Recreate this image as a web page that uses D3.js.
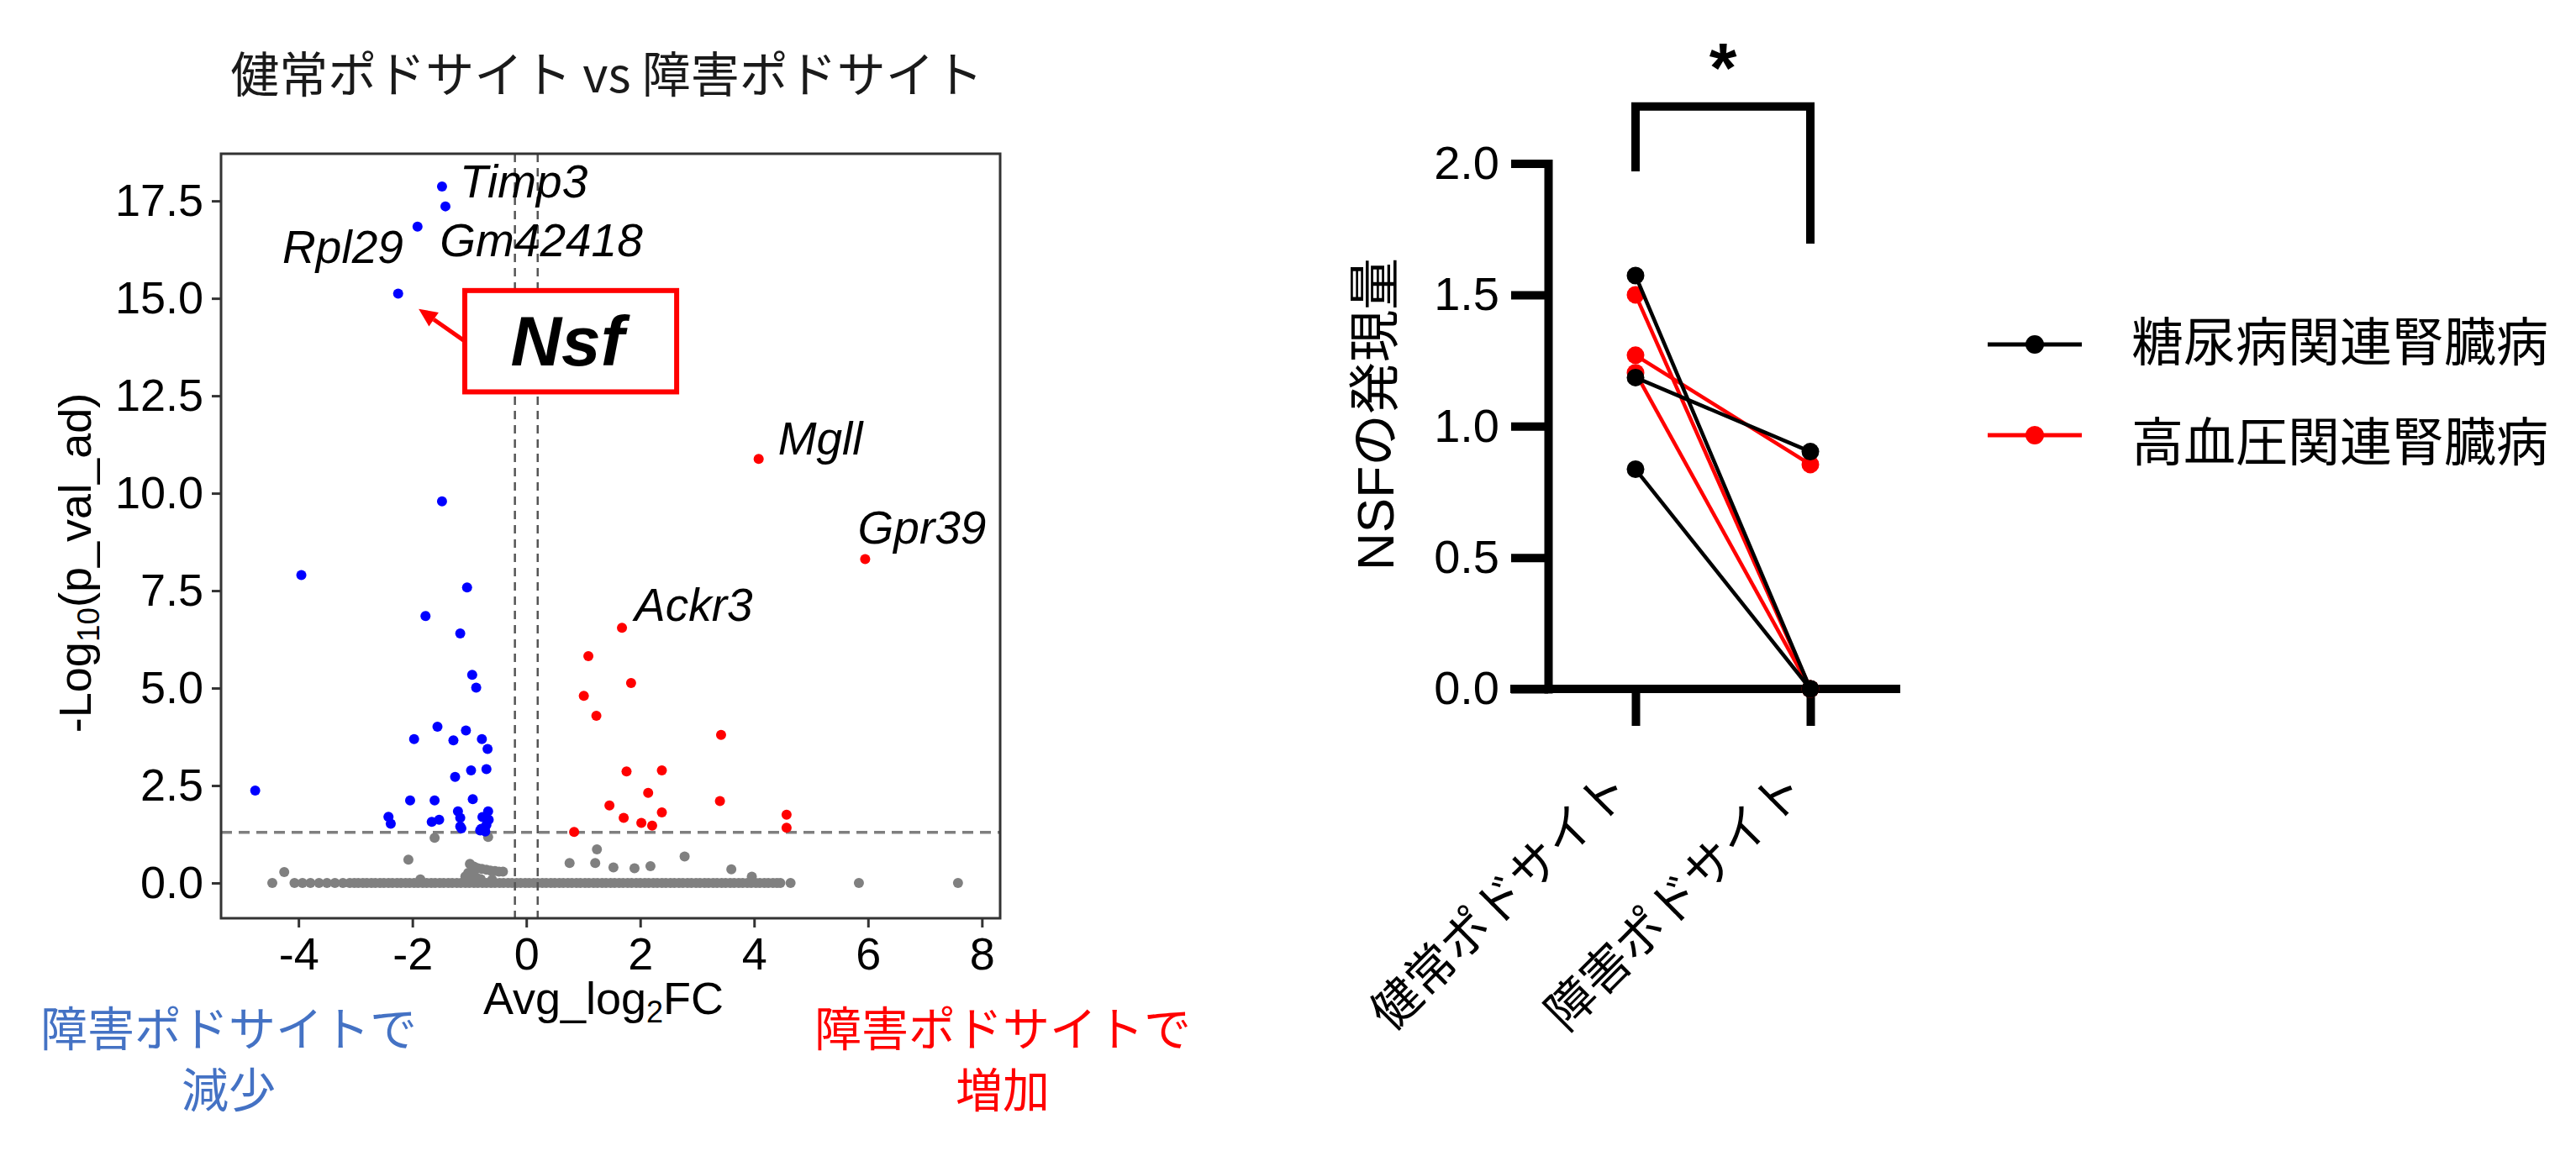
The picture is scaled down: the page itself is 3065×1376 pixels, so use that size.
<!DOCTYPE html>
<html>
<head>
<meta charset="utf-8">
<script src="https://cdn.jsdelivr.net/npm/d3@7"></script>
<style>
  body { margin: 0; background: #fff; }
  svg { display: block; }
</style>
</head>
<body>
<svg id="fig" width="3065" height="1376"></svg>
<script>
// ---------- volcano plot data: [avg_log2FC, -log10(p_val_adj)] ----------
const downGenes = [
  [-1.48, 17.87], [-1.42, 17.36], [-1.91, 16.84], [-2.25, 15.12], [-1.48, 9.79],
  [-3.95, 7.90], [-1.04, 7.58], [-1.77, 6.85], [-1.16, 6.40], [-0.95, 5.34], [-0.88, 5.01],
  [-1.56, 4.01], [-1.06, 3.91], [-1.97, 3.69], [-1.28, 3.66], [-0.78, 3.69], [-0.68, 3.44],
  [-0.97, 2.89], [-0.70, 2.92], [-1.25, 2.72], [-4.76, 2.37],
  [-2.04, 2.12], [-1.61, 2.12], [-0.94, 2.15],
  [-2.42, 1.70], [-2.38, 1.52], [-1.66, 1.57], [-1.53, 1.62], [-1.20, 1.84], [-1.16, 1.67],
  [-1.16, 1.45], [-0.77, 1.69], [-0.67, 1.84], [-0.70, 1.49], [-0.81, 1.35], [-0.72, 1.32],
  [-0.66, 1.62], [-1.14, 1.40], [-0.79, 1.39]
];
const upGenes = [
  [4.08, 10.88], [5.95, 8.31], [1.68, 6.55], [1.09, 5.82], [1.84, 5.13], [1.01, 4.80],
  [1.23, 4.29], [3.42, 3.80], [1.76, 2.86], [2.38, 2.89], [2.14, 2.31], [3.40, 2.10],
  [1.46, 1.99], [1.71, 1.67], [2.38, 1.81], [2.02, 1.54], [2.21, 1.47], [4.57, 1.75],
  [4.57, 1.42], [0.84, 1.31]
];
const nsGenes = [
  [-4.46, 0], [-4.25, 0.28], [-2.07, 0.60], [-1.61, 1.16], [-0.67, 1.18],
  [-1.86, 0.09], [-1.07, 0.17], [-0.99, 0.49], [-0.92, 0.42], [-0.85, 0.38], [-0.78, 0.36],
  [-0.70, 0.34], [-0.63, 0.32], [-0.55, 0.31], [-0.48, 0.29], [-0.41, 0.29], [-1.02, 0.26],
  [-0.95, 0.22], [-0.88, 0.14], [-0.80, 0.10], [-0.60, 0.08],
  [0.76, 0.51], [1.21, 0.51], [1.24, 0.86], [1.53, 0.40], [1.90, 0.38], [2.18, 0.43],
  [2.78, 0.68], [3.60, 0.35], [3.96, 0.16], [4.64, 0], [5.84, 0], [7.58, 0]
];
// genes with p_adj ~ 1 (the dense row on the zero line)
const nsBandX = [
  -4.07, -3.93, -3.79, -3.64, -3.50, -3.36, -3.22, -3.10, -3.02, -2.95, -2.87, -2.80,
  -2.72, -2.65, -2.57, -2.50, -2.42, -2.35, -2.27, -2.20, -2.12, -2.05, -1.97, -1.90,
  -1.82, -1.75, -1.67, -1.60, -1.52, -1.45, -1.37, -1.30, -1.22, -1.15, -1.07, -1.00,
  -0.92, -0.85, -0.77, -0.70, -0.62, -0.55, -0.47, -0.40, -0.32, -0.25, -0.17, -0.10,
  -0.02, 0.05, 0.13, 0.20, 0.28, 0.35, 0.43, 0.50, 0.58, 0.65, 0.73, 0.80, 0.88, 0.95,
  1.03, 1.10, 1.18, 1.25, 1.33, 1.40, 1.48, 1.55, 1.63, 1.70, 1.78, 1.85, 1.93, 2.00,
  2.08, 2.15, 2.23, 2.30, 2.38, 2.45, 2.53, 2.60, 2.68, 2.75, 2.83, 2.90, 2.98, 3.05,
  3.13, 3.20, 3.28, 3.35, 3.43, 3.50, 3.58, 3.65, 3.73, 3.80, 3.88, 3.95, 4.03, 4.10,
  4.18, 4.25, 4.33, 4.40, 4.46
];
// gene names written next to points (label anchor in data units)
const geneLabels = [
  { gene: "Timp3",   x: -1.17, y: 17.59, anchor: "start" },
  { gene: "Gm42418", x: -1.52, y: 16.07, anchor: "start" },
  { gene: "Rpl29",   x: -2.16, y: 15.90, anchor: "end" },
  { gene: "Mgll",    x: 4.42,  y: 11.00, anchor: "start" },
  { gene: "Gpr39",   x: 5.82,  y: 8.71,  anchor: "start" },
  { gene: "Ackr3",   x: 1.90,  y: 6.73,  anchor: "start" }
];
const xTicksV = [-4, -2, 0, 2, 4, 6, 8];
const yTicksV = [0, 2.5, 5, 7.5, 10, 12.5, 15, 17.5];
const fcCut = 0.2;    // |log2FC| threshold
const pCut = 1.3;     // -log10(0.05)

// ---------- paired NSF expression ----------
const groups = ["健常ポドサイト", "障害ポドサイト"];
const seriesNames = ["糖尿病関連腎臓病", "高血圧関連腎臓病"];
const dkdPairs = [[1.573, 0], [1.185, 0.903], [0.836, 0]];
const htnPairs = [[1.50, 0], [1.27, 0.854], [1.203, 0]];
const yTicksN = [0, 0.5, 1.0, 1.5, 2.0];
const sigBracket = { left: 1.97, top: 2.217, right: 1.695, label: "*" };

const SANS = "'Liberation Sans', Arial, sans-serif";
const JP = "'Noto Sans CJK JP', sans-serif";
const MIX = "'Liberation Sans', 'Noto Sans CJK JP', sans-serif";

const svg = d3.select("#fig");

// ======================= volcano =======================
const x = d3.scaleLinear().domain([-5.36, 8.32]).range([263, 1190]);
const y = d3.scaleLinear().domain([-0.905, 18.71]).range([1093, 183]);

const vol = svg.append("g").attr("class", "volcano");

vol.append("text")
  .attr("x", 722).attr("y", 85)
  .attr("text-anchor", "middle").attr("dominant-baseline", "central")
  .style("font-family", JP).style("font-size", "58px")
  .attr("fill", "#1a1a1a")
  .text("健常ポドサイト vs 障害ポドサイト");

// grey points first
vol.append("g").selectAll("circle")
  .data(nsBandX).join("circle")
  .attr("cx", d => x(d)).attr("cy", y(0)).attr("r", 6)
  .attr("fill", "#808080");
vol.append("g").selectAll("circle")
  .data(nsGenes).join("circle")
  .attr("cx", d => x(d[0])).attr("cy", d => y(d[1])).attr("r", 6)
  .attr("fill", "#808080");

// threshold lines
[-fcCut, fcCut].forEach(v => {
  vol.append("line")
    .attr("x1", x(v)).attr("x2", x(v))
    .attr("y1", y.range()[1]).attr("y2", y.range()[0])
    .attr("stroke", "#555").attr("stroke-width", 2.5)
    .attr("stroke-dasharray", "10,7");
});
vol.append("line")
  .attr("x1", x.range()[0]).attr("x2", x.range()[1])
  .attr("y1", y(pCut)).attr("y2", y(pCut))
  .attr("stroke", "#7f7f7f").attr("stroke-width", 3.5)
  .attr("stroke-dasharray", "13,8");

vol.append("g").selectAll("circle")
  .data(downGenes).join("circle")
  .attr("cx", d => x(d[0])).attr("cy", d => y(d[1])).attr("r", 6)
  .attr("fill", "#0000ff");
vol.append("g").selectAll("circle")
  .data(upGenes).join("circle")
  .attr("cx", d => x(d[0])).attr("cy", d => y(d[1])).attr("r", 6)
  .attr("fill", "#ff0000");

// panel border
vol.append("rect")
  .attr("x", x.range()[0]).attr("y", y.range()[1])
  .attr("width", x.range()[1] - x.range()[0])
  .attr("height", y.range()[0] - y.range()[1])
  .attr("fill", "none").attr("stroke", "#333").attr("stroke-width", 3);

// axes
const gx = vol.append("g")
  .attr("transform", "translate(0," + y.range()[0] + ")")
  .call(d3.axisBottom(x).tickValues(xTicksV).tickFormat(d => String(d))
    .tickSize(11).tickPadding(12));
const gy = vol.append("g")
  .attr("transform", "translate(" + x.range()[0] + ",0)")
  .call(d3.axisLeft(y).tickValues(yTicksV).tickFormat(d3.format(".1f"))
    .tickSize(11).tickPadding(10));
[gx, gy].forEach(g => {
  g.select(".domain").remove();
  g.selectAll(".tick line").attr("stroke", "#333").attr("stroke-width", 3);
  g.selectAll(".tick text")
    .style("font-family", SANS).style("font-size", "54px").attr("fill", "#000");
});

// axis titles
const xt = vol.append("text")
  .attr("x", 718).attr("y", 1207).attr("text-anchor", "middle")
  .style("font-family", SANS).style("font-size", "54px").attr("fill", "#000");
xt.append("tspan").text("Avg_log");
xt.append("tspan").attr("dy", 10).style("font-size", "36px").text("2");
xt.append("tspan").attr("dy", -10).text("FC");

const yt = vol.append("text")
  .attr("transform", "translate(108,670) rotate(-90)").attr("text-anchor", "middle")
  .style("font-family", SANS).style("font-size", "54px").attr("fill", "#000");
yt.append("tspan").text("-Log");
yt.append("tspan").attr("dy", 10).style("font-size", "37px").text("10");
yt.append("tspan").attr("dy", -10).text("(p_val_ad)");

// gene labels
vol.append("g").selectAll("text")
  .data(geneLabels).join("text")
  .attr("x", d => x(d.x)).attr("y", d => y(d.y))
  .attr("text-anchor", d => d.anchor)
  .style("font-family", SANS).style("font-size", "55px").style("font-style", "italic")
  .attr("fill", "#000")
  .text(d => d.gene);

// Nsf call-out box with arrow to its point
const box = { x0: -1.08, y0: 15.2, x1: 2.64, y1: 12.6 };
const tip = [-1.89, 14.73];
vol.append("rect")
  .attr("x", x(box.x0)).attr("y", y(box.y0))
  .attr("width", x(box.x1) - x(box.x0)).attr("height", y(box.y1) - y(box.y0))
  .attr("fill", "#fff").attr("stroke", "#ff0000").attr("stroke-width", 6);
vol.append("text")
  .attr("x", (x(box.x0) + x(box.x1)) / 2 - 4)
  .attr("y", (y(box.y0) + y(box.y1)) / 2 + 29)
  .attr("text-anchor", "middle")
  .style("font-family", SANS).style("font-size", "84px")
  .style("font-style", "italic").style("font-weight", "bold")
  .attr("fill", "#000").text("Nsf");
{
  const sx = x(box.x0), sy = (y(box.y0) + y(box.y1)) / 2;
  const tx = x(tip[0]), ty = y(tip[1]);
  const ang = Math.atan2(ty - sy, tx - sx);
  const hl = 22, hw = 10;
  const bx = tx - hl * Math.cos(ang), by = ty - hl * Math.sin(ang);
  vol.append("line")
    .attr("x1", sx).attr("y1", sy).attr("x2", bx).attr("y2", by)
    .attr("stroke", "#ff0000").attr("stroke-width", 5);
  vol.append("path")
    .attr("d", "M" + tx + "," + ty +
      "L" + (bx + hw * Math.sin(ang)) + "," + (by - hw * Math.cos(ang)) +
      "L" + (bx - hw * Math.sin(ang)) + "," + (by + hw * Math.cos(ang)) + "Z")
    .attr("fill", "#ff0000");
}

// direction captions
const captions = [
  { lines: ["障害ポドサイトで", "減少"], cx: 272, color: "#4472c4" },
  { lines: ["障害ポドサイトで", "増加"], cx: 1193, color: "#ff0000" }
];
captions.forEach(c => {
  c.lines.forEach((t, i) => {
    vol.append("text")
      .attr("x", c.cx).attr("y", 1220 + i * 73)
      .attr("text-anchor", "middle").attr("dominant-baseline", "central")
      .style("font-family", JP).style("font-size", "56px")
      .attr("fill", c.color).text(t);
  });
});

// ======================= paired plot =======================
const xp = d3.scalePoint().domain(groups).range([1946, 2154]);
const yn = d3.scaleLinear().domain([0, 2]).range([820, 194.5]);
const pr = svg.append("g").attr("class", "paired");

const gyn = pr.append("g")
  .attr("transform", "translate(1842,0)")
  .call(d3.axisLeft(yn).tickValues(yTicksN).tickFormat(d3.format(".1f"))
    .tickSize(44).tickSizeOuter(0).tickPadding(14));
gyn.select(".domain").attr("stroke", "#000").attr("stroke-width", 10)
  .attr("stroke-linecap", "square");
gyn.selectAll(".tick line").attr("stroke", "#000").attr("stroke-width", 10);
gyn.selectAll(".tick text")
  .style("font-family", SANS).style("font-size", "56px").attr("fill", "#000");

const gxn = pr.append("g")
  .attr("transform", "translate(0," + yn(0) + ")")
  .call(d3.axisBottom(xp).tickSize(44).tickSizeOuter(0));
gxn.select(".domain").remove();
gxn.selectAll(".tick text").remove();
gxn.selectAll(".tick line").attr("stroke", "#000").attr("stroke-width", 10);
pr.append("line")
  .attr("x1", 1797).attr("x2", 2261).attr("y1", yn(0)).attr("y2", yn(0))
  .attr("stroke", "#000").attr("stroke-width", 10);

groups.forEach(g => {
  pr.append("text")
    .attr("transform", "translate(" + (xp(g) - 21) + "," + (yn(0) + 105) + ") rotate(-45)")
    .attr("text-anchor", "end").attr("dominant-baseline", "central")
    .style("font-family", JP).style("font-size", "58px").attr("fill", "#000")
    .text(g);
});

pr.append("text")
  .attr("transform", "translate(1636,493) rotate(-90)")
  .attr("text-anchor", "middle").attr("dominant-baseline", "central")
  .style("font-family", MIX).style("font-size", "62px").attr("fill", "#000")
  .text("NSFの発現量");

// pairs: red series under black series
[[htnPairs, "#ff0000"], [dkdPairs, "#000000"]].forEach(([pairs, col]) => {
  const gp = pr.append("g");
  gp.selectAll("line").data(pairs).join("line")
    .attr("x1", xp(groups[0])).attr("y1", d => yn(d[0]))
    .attr("x2", xp(groups[1])).attr("y2", d => yn(d[1]))
    .attr("stroke", col).attr("stroke-width", 4.5);
  gp.selectAll("circle.h").data(pairs).join("circle").attr("class", "h")
    .attr("cx", xp(groups[0])).attr("cy", d => yn(d[0])).attr("r", 10.5).attr("fill", col);
  gp.selectAll("circle.d").data(pairs).join("circle").attr("class", "d")
    .attr("cx", xp(groups[1])).attr("cy", d => yn(d[1])).attr("r", 10.5).attr("fill", col);
});

// significance bracket
pr.append("path")
  .attr("d", "M" + xp(groups[0]) + "," + yn(sigBracket.left) +
    "V" + yn(sigBracket.top) + "H" + xp(groups[1]) + "V" + yn(sigBracket.right))
  .attr("fill", "none").attr("stroke", "#000").attr("stroke-width", 10);
pr.append("text")
  .attr("x", (xp(groups[0]) + xp(groups[1])) / 2).attr("y", 110)
  .attr("text-anchor", "middle")
  .style("font-family", SANS).style("font-size", "84px").style("font-weight", "bold")
  .attr("fill", "#000").text(sigBracket.label);

// legend
const legColors = ["#000000", "#ff0000"];
const legLineY = [410, 518];
const legTextY = [403, 522];
seriesNames.forEach((s, i) => {
  pr.append("line")
    .attr("x1", 2365).attr("x2", 2477).attr("y1", legLineY[i]).attr("y2", legLineY[i])
    .attr("stroke", legColors[i]).attr("stroke-width", 5);
  pr.append("circle")
    .attr("cx", 2421).attr("cy", legLineY[i]).attr("r", 11).attr("fill", legColors[i]);
  pr.append("text")
    .attr("x", 2536).attr("y", legTextY[i]).attr("dominant-baseline", "central")
    .style("font-family", JP).style("font-size", "62px").attr("fill", "#000")
    .text(s);
});
</script>
</body>
</html>
